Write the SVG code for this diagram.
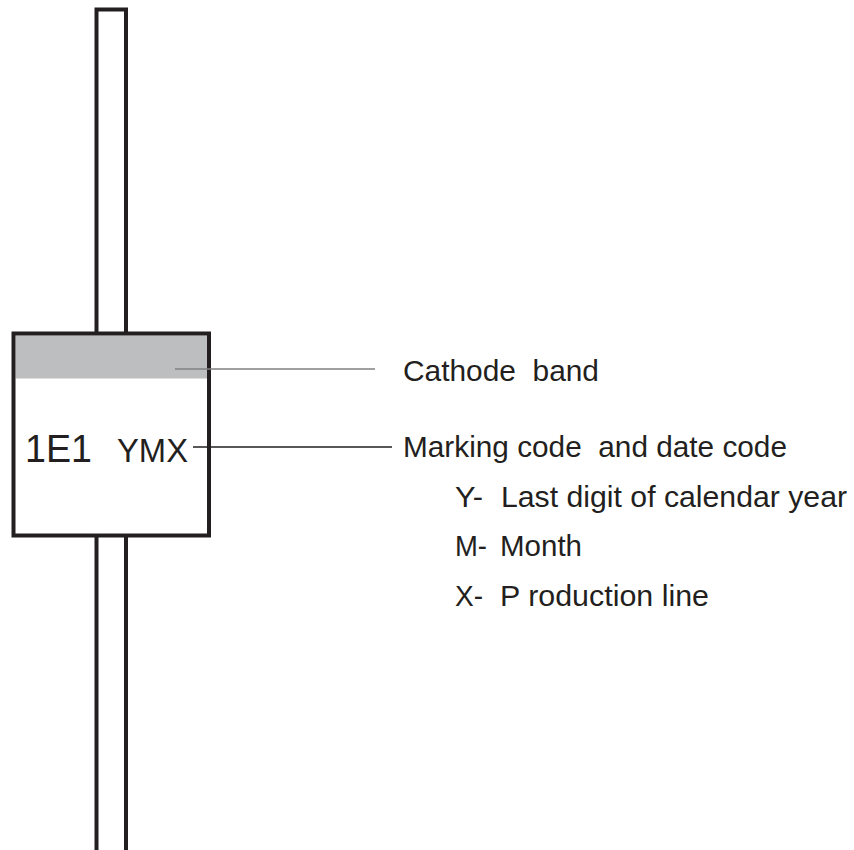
<svg xmlns="http://www.w3.org/2000/svg" width="854" height="850" viewBox="0 0 854 850">
<style>
.o{fill:none;stroke:#231f20;stroke-width:4}
.t{font-family:"Liberation Sans",Arial,sans-serif;fill:#231f20}
.r{font-size:29.5px}
</style>
<rect width="854" height="850" fill="#fff"/>
<g id="diode">
<path class="o" d="M96.5,333.5 V9.5 H126 V333.5"/>
<rect x="15.5" y="335.5" width="191.5" height="43" fill="#bdbec0"/>
<rect class="o" x="13.5" y="333.5" width="195.5" height="202" fill="none"/>
<path class="o" d="M96.5,535.5 V850 M126,535.5 V850"/>
<text class="t" x="25" y="462" font-size="39" textLength="67" lengthAdjust="spacingAndGlyphs">1E1</text>
<text class="t" x="117" y="462" font-size="33" textLength="71" lengthAdjust="spacingAndGlyphs">YMX</text>
</g>
<g id="connectors">
<line x1="175" y1="369" x2="375" y2="369" stroke="#808080" stroke-width="1.5"/>
<line x1="193" y1="447" x2="392" y2="447" stroke="#231f20" stroke-width="1.5"/>
</g>
<g id="labels">
<text class="t r" x="403" y="381" textLength="196" lengthAdjust="spacingAndGlyphs" xml:space="preserve">Cathode  band</text>
<text class="t r" x="403" y="457" textLength="384" lengthAdjust="spacingAndGlyphs" xml:space="preserve">Marking code  and date code</text>
<text class="t r" x="455" y="507" textLength="28" lengthAdjust="spacingAndGlyphs">Y-</text>
<text class="t r" x="501" y="507" textLength="346" lengthAdjust="spacingAndGlyphs">Last digit of calendar year</text>
<text class="t r" x="455" y="556" textLength="32" lengthAdjust="spacingAndGlyphs">M-</text>
<text class="t r" x="500" y="556" textLength="82" lengthAdjust="spacingAndGlyphs">Month</text>
<text class="t r" x="455" y="606" textLength="28" lengthAdjust="spacingAndGlyphs">X-</text>
<text class="t r" x="500" y="606" textLength="209" lengthAdjust="spacingAndGlyphs" xml:space="preserve">P roduction line</text>
</g>
</svg>
